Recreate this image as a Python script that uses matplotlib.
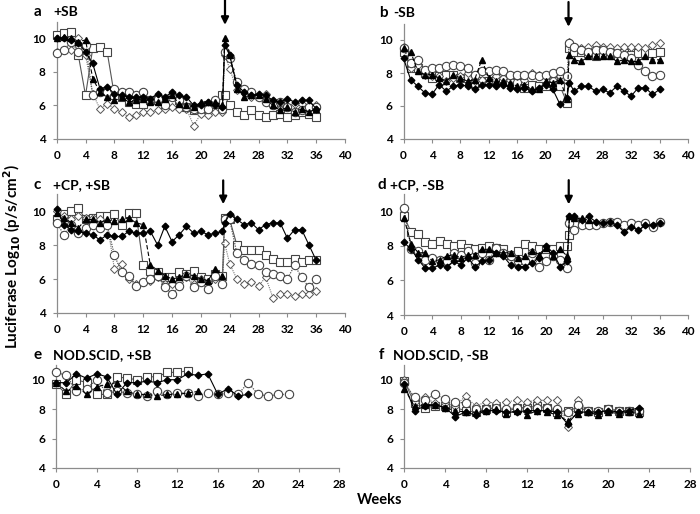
import matplotlib
matplotlib.use("Agg")
import matplotlib.pyplot as plt
import numpy as np

plt.rcParams['font.family'] = ['Lato', 'DejaVu Sans']
plt.rcParams['font.weight'] = 'bold'

# weeks for panels a-d (23.3 = re-challenge point right after arrow)
weeks_long = [0, 1, 2, 3, 4, 5, 6, 7, 8, 9, 10, 11, 12, 13, 14, 15, 16, 17, 18, 19, 20, 21, 22, 23, 23.3,
              24, 25, 26, 27, 28, 29, 30, 31, 32, 33, 34, 35, 36]
weeks_short = list(range(0, 24))

# ---- panel a: +SB
a_fdia = [10.0, 10.0, 9.9, 9.7, 9.2, 8.5, 7.0, 7.1, 6.7, 6.6, 6.5, 6.5, 6.5, 6.4, 6.7, 6.5, 6.8, 6.6, 6.5, 6.0, 6.0, 6.2, 6.0, 5.9, 9.6,
          9.0, 7.2, 6.8, 6.6, 6.7, 6.6, 6.3, 6.2, 6.4, 6.2, 6.3, 6.3, 5.8]
a_ftri = [10.0, 10.1, 10.0, 9.8, 9.9, 7.6, 6.8, 6.5, 6.3, 6.5, 6.2, 6.3, 6.4, 6.2, 6.2, 6.4, 6.6, 6.1, 6.0, 5.9, 6.2, 6.2, 6.2, 6.0, 10.0,
          9.0, 7.0, 6.5, 6.6, 6.6, 6.4, 6.0, 5.7, 5.9, 5.6, 5.8, 5.6, 5.8]
a_osq = [10.2, 10.3, 10.4, 9.0, 6.6, 9.4, 9.5, 9.2, 6.6, 6.5, 6.2, 6.1, 6.1, 6.3, 6.3, 6.0, 6.1, 6.3, 5.9, 5.7, 5.8, 6.0, 6.1, 6.6, 6.6,
         6.0, 5.6, 5.4, 5.7, 5.4, 5.3, 5.4, 5.5, 5.3, 5.4, 5.6, 5.5, 5.3]
a_ocir = [9.1, 9.3, 9.8, 9.2, 9.6, 6.6, 6.8, 6.8, 7.0, 6.8, 6.8, 6.6, 6.8, 6.3, 6.4, 6.0, 6.5, 6.3, 5.9, 5.8, 5.8, 5.8, 6.3, 5.8, 9.2,
          8.8, 7.4, 7.0, 6.8, 6.5, 6.2, 6.0, 6.2, 5.9, 5.6, 5.7, 5.9, 5.9]
a_odia = [9.2, 9.3, 9.3, 10.0, 9.0, 6.7, 5.8, 6.1, 5.8, 5.6, 5.3, 5.4, 5.6, 5.6, 5.7, 5.8, 5.9, 5.8, 5.8, 4.8, 5.5, 5.4, 5.6, 5.6, 9.0,
          8.2, 6.9, 6.8, 6.5, 6.5, 6.7, 6.1, 6.0, 5.9, 6.1, 6.1, 5.9, 6.0]

# ---- panel b: -SB
b_fdia = [8.9, 7.6, 7.2, 6.8, 6.7, 7.3, 6.9, 7.2, 7.3, 7.2, 7.0, 7.3, 7.3, 7.2, 7.3, 7.1, 7.0, 7.1, 6.9, 7.1, 7.3, 7.0, 6.1, 6.5, 7.4,
          6.9, 7.2, 7.2, 6.9, 7.0, 6.8, 7.2, 6.9, 6.6, 7.1, 7.1, 6.7, 7.0]
b_ftri = [9.5, 9.3, 8.1, 7.9, 7.9, 7.7, 7.5, 7.9, 7.7, 7.5, 7.6, 8.8, 7.7, 7.5, 7.5, 7.4, 7.2, 7.3, 7.0, 7.0, 7.5, 7.4, 7.6, 6.4, 9.1,
          8.8, 8.7, 9.0, 9.0, 9.0, 9.0, 8.7, 8.8, 8.7, 8.7, 9.0, 8.8, 8.8]
b_osq = [9.3, 8.3, 8.3, 8.0, 7.7, 7.8, 7.9, 7.9, 7.7, 7.7, 7.4, 7.5, 7.5, 7.6, 7.7, 7.5, 7.4, 7.1, 7.3, 7.2, 7.2, 7.5, 7.2, 6.2, 9.5,
         9.3, 9.3, 9.2, 9.0, 9.1, 9.1, 9.2, 9.2, 9.1, 9.2, 9.2, 9.2, 9.3]
b_ocir = [9.5, 8.6, 8.8, 8.2, 8.3, 8.3, 8.4, 8.5, 8.4, 8.3, 7.9, 8.1, 8.1, 8.2, 8.1, 7.9, 7.9, 7.9, 7.9, 7.8, 7.9, 8.0, 8.1, 7.8, 9.8,
          9.6, 9.4, 9.3, 9.4, 9.4, 9.3, 9.2, 9.1, 8.9, 8.5, 8.1, 7.8, 7.9]
b_odia = [9.6, 8.3, 8.5, 7.9, 7.8, 7.8, 7.5, 7.7, 7.8, 8.0, 7.5, 7.6, 7.5, 7.8, 7.7, 7.6, 7.8, 7.6, 8.0, 7.9, 7.8, 7.6, 7.8, 7.5, 9.9,
          9.6, 9.5, 9.6, 9.7, 9.6, 9.6, 9.5, 9.6, 9.6, 9.6, 9.5, 9.7, 9.8]

# ---- panel c: +CP, +SB
c_fdia = [10.1, 9.2, 8.9, 8.8, 8.7, 8.6, 8.3, 8.6, 8.5, 8.5, 8.8, 8.7, 8.7, 8.8, 8.0, 9.1, 8.2, 8.6, 9.1, 8.7, 8.8, 8.6, 8.7, 8.8, 9.3,
          9.8, 9.5, 9.2, 9.3, 8.9, 9.2, 9.3, 9.3, 8.4, 8.9, 8.9, 8.0, 7.1]
c_ftri = [9.9, 9.6, 9.3, 9.0, 9.5, 9.5, 9.3, 9.5, 9.4, 9.5, 9.6, 9.3, 9.2, 6.8, 6.5, 6.2, 6.0, 6.1, 6.3, 6.2, 6.0, 5.9, 6.6, 6.2]
c_osq = [9.5, 9.8, 10.0, 10.2, 9.5, 9.6, 9.7, 9.7, 9.8, 9.2, 9.9, 9.9, 6.8, 6.5, 6.4, 6.1, 6.1, 6.4, 6.3, 6.5, 6.1, 6.0, 6.3, 6.2, 9.6,
         9.5, 8.0, 7.7, 7.7, 7.7, 7.4, 7.2, 7.0, 7.0, 7.2, 7.0, 7.1, 7.1]
c_ocir = [9.3, 8.6, 9.2, 8.7, 9.0, 9.2, 9.0, 9.2, 7.4, 6.4, 6.2, 5.6, 5.8, 6.0, 6.2, 5.5, 5.1, 5.6, 6.2, 5.5, 5.8, 5.4, 6.2, 5.7, 9.5,
          9.5, 7.5, 7.1, 6.9, 6.8, 6.4, 6.3, 6.2, 6.0, 6.8, 6.1, 5.5, 6.0]
c_odia = [10.0, 9.7, 9.5, 9.7, 9.6, 9.6, 9.5, 9.3, 6.6, 6.9, 6.0, 5.7, 5.8, 5.9, 6.1, 5.7, 5.7, 5.8, 6.1, 5.7, 6.0, 5.8, 6.0, 6.0, 8.1,
          6.9, 6.0, 5.7, 5.8, 5.6, 6.1, 4.9, 5.1, 5.1, 5.0, 5.1, 5.1, 5.3]

# ---- panel d: +CP, -SB
d_fdia = [8.2, 7.8, 7.2, 6.7, 6.7, 6.9, 6.8, 7.1, 6.9, 7.3, 6.8, 7.1, 7.2, 7.6, 7.4, 6.9, 6.8, 6.8, 7.0, 7.3, 8.0, 7.6, 6.8, 7.1, 9.7,
          9.7, 9.5, 9.7, 9.4, 9.3, 9.4, 9.2, 8.8, 9.1, 8.9, 9.2, 9.2, 9.3]
d_ftri = [9.6, 8.1, 7.6, 7.6, 7.1, 7.2, 7.4, 7.5, 7.3, 7.5, 7.5, 7.8, 7.8, 7.6, 7.6, 7.6, 7.3, 7.4, 7.7, 7.5, 7.9, 7.4, 7.8, 7.4, 9.7,
          9.6, 9.6, 9.5]
d_osq = [9.7, 8.8, 8.7, 8.2, 8.1, 8.3, 8.1, 8.0, 8.1, 7.9, 7.8, 7.9, 8.0, 7.9, 7.8, 7.5, 7.7, 8.1, 8.0, 7.8, 7.8, 7.8, 8.0, 8.0, 8.6,
         9.3]
d_ocir = [10.2, 7.8, 7.7, 7.2, 7.3, 7.2, 7.1, 7.6, 7.5, 7.7, 7.0, 7.6, 7.2, 7.9, 7.6, 7.4, 7.1, 7.1, 7.6, 6.8, 7.1, 7.4, 7.2, 6.7, 9.3,
          8.9, 9.2, 9.2, 9.2, 9.3, 9.4, 9.4, 9.2, 9.3, 9.2, 9.3, 9.1, 9.4]

# ---- panel e: NOD.SCID, +SB
e_fdia = [9.8, 9.8, 10.4, 10.1, 10.4, 10.2, 9.0, 9.8, 9.8, 9.9, 9.8, 10.0, 10.0, 10.4, 10.3, 10.4, 9.0, 9.4, 8.9, 9.0]
e_ftri = [9.8, 9.2, 9.6, 9.0, 9.5, 9.7, 9.8, 9.2, 9.0, 9.0, 8.9, 9.0, 9.0, 9.1, 9.2]
e_osq = [9.7, 9.0, 10.0, 9.8, 9.0, 9.0, 10.2, 10.1, 10.0, 10.2, 10.2, 10.5, 10.5, 10.6]
e_ocir = [10.5, 10.3, 9.2, 9.4, 10.0, 9.1, 9.2, 9.1, 9.0, 8.9, 9.2, 9.0, 9.1, 9.1, 8.9, 9.1, 9.0, 9.1, 9.0, 9.8,
          9.0, 8.9, 9.0, 9.0]

# ---- panel f: NOD.SCID, -SB
f_fdia = [9.7, 7.9, 8.2, 8.3, 8.1, 7.5, 7.8, 7.6, 7.9, 7.9, 7.8, 7.8, 7.9, 7.9, 7.9, 7.8, 7.0, 7.8, 7.8, 7.8, 7.9, 7.8, 7.9, 8.1]
f_ftri = [9.4, 8.2, 8.3, 8.3, 8.1, 7.9, 7.8, 7.8, 7.9, 8.0, 7.7, 7.9, 7.6, 7.9, 7.8, 7.6, 7.2, 7.7, 7.8, 7.6, 7.8, 7.7, 7.8, 7.7]
f_osq = [9.9, 8.4, 8.1, 8.2, 8.2, 8.1, 7.9, 7.8, 8.0, 8.1, 7.8, 8.1, 8.1, 8.2, 8.1, 7.8, 7.9, 8.1, 7.9, 7.8, 8.0, 7.9, 7.9, 7.8]
f_ocir = [9.8, 8.8, 8.6, 9.0, 8.7, 8.5, 8.4, 8.0, 8.0, 8.1, 8.0, 8.1, 8.0, 8.1, 8.1, 8.0, 7.8, 8.3, 7.9, 7.9, 8.0, 7.9, 7.9, 7.9]
f_odia = [10.0, 8.5, 8.8, 8.4, 8.4, 8.2, 8.9, 8.2, 8.5, 8.4, 8.5, 8.6, 8.5, 8.6, 8.6, 8.6, 6.8, 8.6, 7.9, 7.8, 7.9, 7.9, 7.9, 7.8]

panel_letters = ['a', 'b', 'c', 'd', 'e', 'f']
panel_titles = ['+SB', '-SB', '+CP, +SB', '+CP, -SB', 'NOD.SCID, +SB', 'NOD.SCID, -SB']
yticks = [4, 6, 8, 10]

W, H = 700, 514
fig = plt.figure(figsize=(7, 5.14), dpi=100)

def px_axes(x0, x1, ybot, ytop):
    return fig.add_axes([x0 / W, 1 - ybot / H, (x1 - x0) / W, (ybot - ytop) / H])

# (left px, right px, bottom px, top px)
boxes = [
    (56.7, 345, 139, 21.5),
    (403.5, 688, 139, 23.5),
    (56.7, 345, 313, 194),
    (404, 688, 315, 194),
    (56.3, 339, 468, 365),
    (404.3, 690, 468, 365),
]

styles = {
    'fdia': dict(marker='D', ms=3.4, mfc='black', mec='black', color='black', ls='-', lw=0.8),
    'ftri': dict(marker='^', ms=4.8, mfc='black', mec='black', color='black', ls=(0, (4, 2)), lw=0.8),
    'osq': dict(marker='s', ms=5.3, mfc='white', mec='#444444', mew=0.8, color='#555555', ls='-', lw=0.8),
    'ocir': dict(marker='o', ms=6, mfc='white', mec='#444444', mew=0.8, color='#555555', ls=(0, (1, 1)), lw=0.9),
    'odia': dict(marker='D', ms=4.0, mfc='white', mec='#555555', mew=0.7, color='#777777', ls=(0, (1, 1)), lw=0.8),
}

panel_series = [
    [('osq', a_osq), ('odia', a_odia), ('ocir', a_ocir), ('ftri', a_ftri), ('fdia', a_fdia)],
    [('osq', b_osq), ('odia', b_odia), ('ocir', b_ocir), ('ftri', b_ftri), ('fdia', b_fdia)],
    [('osq', c_osq), ('odia', c_odia), ('ocir', c_ocir), ('ftri', c_ftri), ('fdia', c_fdia)],
    [('osq', d_osq), ('ocir', d_ocir), ('ftri', d_ftri), ('fdia', d_fdia)],
    [('osq', e_osq), ('ocir', e_ocir), ('ftri', e_ftri), ('fdia', e_fdia)],
    [('osq', f_osq), ('odia', f_odia), ('ocir', f_ocir), ('ftri', f_ftri), ('fdia', f_fdia)],
]

axes = []
for i, box in enumerate(boxes):
    ax = px_axes(*box)
    axes.append(ax)
    long = i < 4
    xs_all = weeks_long if long else weeks_short
    for key, vals in panel_series[i]:
        ax.plot(xs_all[:len(vals)], vals, clip_on=False, zorder=3, **styles[key])
    ax.set_ylim(4, 11)
    ax.set_yticks(yticks)
    if long:
        ax.set_xlim(0, 40)
        ax.set_xticks(range(0, 41, 4))
    else:
        ax.set_xlim(0, 28)
        ax.set_xticks(range(0, 29, 4))
    for s in ['top', 'right']:
        ax.spines[s].set_visible(False)
    for s in ['left', 'bottom']:
        ax.spines[s].set_color('#8c8c8c')
        ax.spines[s].set_linewidth(0.9)
    ax.tick_params(axis='both', direction='out', length=3, width=0.8, color='#8c8c8c',
                   labelsize=8.5, pad=5)
    for lab in ax.get_xticklabels() + ax.get_yticklabels():
        lab.set_fontweight('bold')
    ax.patch.set_alpha(0)

# arrows (re-challenge)
arrow_spec = [(0, 23.35, 10.8, 12.3), (1, 23.2, 10.8, 12.3), (2, 23.1, 10.4, 11.8), (3, 23.2, 10.4, 11.8)]
for idx, xa, ytip, ytop in arrow_spec:
    axes[idx].annotate('', xy=(xa, ytip), xytext=(xa, ytop),
                       arrowprops=dict(arrowstyle='-|>', color='black', lw=1.6, mutation_scale=11,
                                       shrinkA=0, shrinkB=0),
                       annotation_clip=False)

# panel labels
label_pos = [(34, 12, 53), (379, 13, 393), (34, 185, 53), (377, 185, 390), (34, 355, 53), (379, 355, 393)]
for i, (xl, yl, xt) in enumerate(label_pos):
    fig.text(xl / W, 1 - yl / H, panel_letters[i], fontsize=11, fontweight='bold', va='center', ha='left')
    fig.text(xt / W, 1 - yl / H, panel_titles[i], fontsize=10, fontweight='bold', va='center', ha='left')

fig.text(12 / W, 1 - 257 / H, r'Luciferase Log$_{\mathbf{10}}$ (p/s/cm$^{\mathbf{2}}$)', rotation=90,
         fontsize=11, fontweight='bold', va='center', ha='center')
fig.text(380 / W, 1 - 500 / H, 'Weeks', fontsize=10.5, fontweight='bold', va='center', ha='center')

fig.savefig('out.png', dpi=100)
